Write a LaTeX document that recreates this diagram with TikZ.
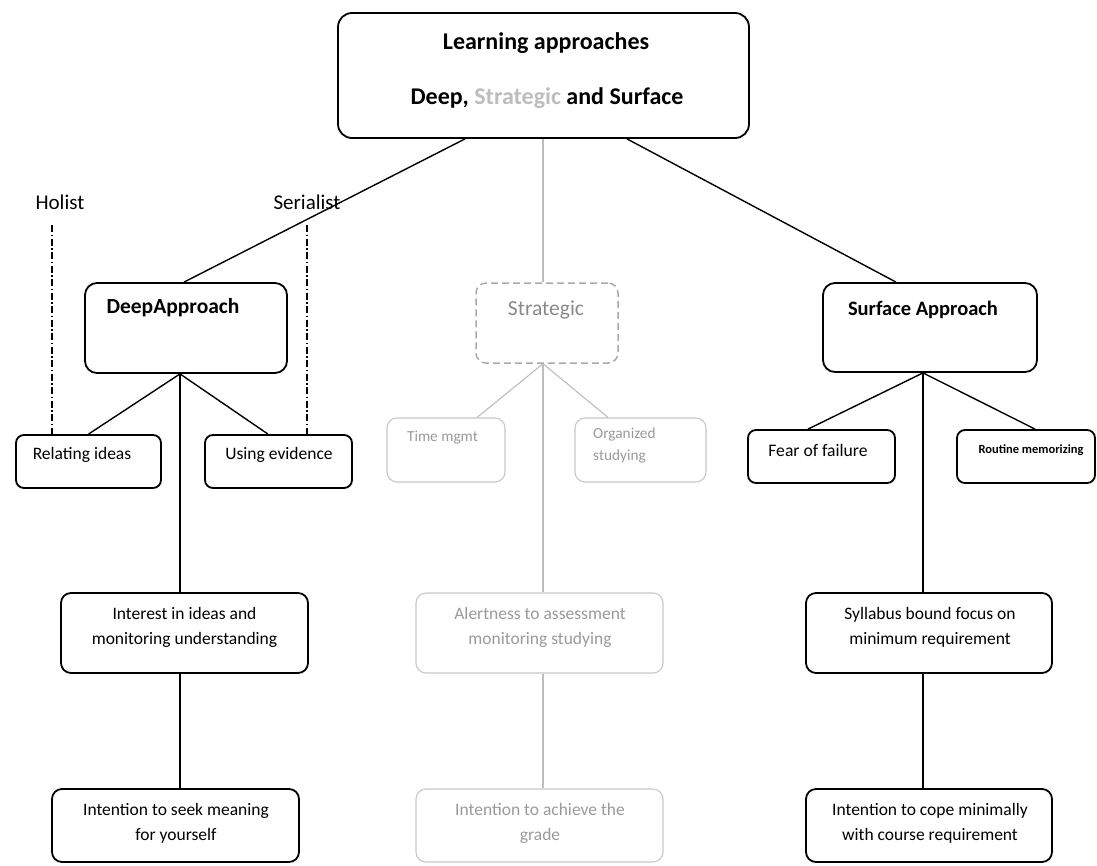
\documentclass[tikz,border=0pt]{standalone}
\usepackage{fontspec}
\setmainfont{Carlito}
\definecolor{lgray}{HTML}{BDBDBD}
\definecolor{tgray}{HTML}{9A9A9A}
\definecolor{sgray}{HTML}{8A8A8A}
\definecolor{bgray}{HTML}{C8C8C8}
\begin{document}
\begin{tikzpicture}[x=1pt,y=-1pt,
  box/.style={draw=black, line width=1.8pt, rounded corners=10pt, inner sep=0pt},
  gbox/.style={draw=bgray, line width=1.1pt, rounded corners=10pt, inner sep=0pt},
  dbox/.style={draw=lgray!90!black, line width=1.5pt, rounded corners=10pt, inner sep=0pt, dash pattern=on 7pt off 4pt},
  conn/.style={draw=black, line width=1.4pt},
  gconn/.style={draw=lgray, line width=1.1pt},
  hsline/.style={draw=black, line width=1.4pt, dash pattern=on 7pt off 2.5pt on 1.5pt off 2.5pt},
  txt/.style={inner sep=0pt, align=center, font=\fontsize{17.5}{25}\selectfont},
  gtxt/.style={txt, text=tgray},
  head/.style={inner sep=0pt, align=center, font=\fontsize{24}{28}\selectfont\bfseries}
]
\useasboundingbox[fill=white] (0,0) rectangle (1097,865);

% boxes
\node[box, rounded corners=14pt, minimum width=411pt, minimum height=125pt] (top) at (543.5,75.5) {};
\node[box, rounded corners=12pt, minimum width=202pt, minimum height=90pt] (deep) at (186,328) {};
\node[dbox, minimum width=142pt, minimum height=80pt] (strat) at (547,323) {};
\node[box, rounded corners=12pt, minimum width=214pt, minimum height=89pt] (surf) at (930,327.5) {};

\node[box, rounded corners=8pt, minimum width=145pt, minimum height=53pt] (relating) at (88.5,461.5) {};
\node[box, rounded corners=8pt, minimum width=147pt, minimum height=53pt] (using) at (278.5,461.5) {};
\node[gbox, minimum width=118pt, minimum height=64pt] (time) at (446,450) {};
\node[gbox, minimum width=131pt, minimum height=64pt] (org) at (640.5,450) {};
\node[box, rounded corners=8pt, minimum width=147pt, minimum height=53pt] (fear) at (821.5,456.5) {};
\node[box, rounded corners=8pt, minimum width=138pt, minimum height=53pt] (routine) at (1026,456.5) {};

\node[box, minimum width=247pt, minimum height=80pt] (interest) at (184.5,633) {};
\node[gbox, minimum width=247pt, minimum height=80pt] (alert) at (539.5,633) {};
\node[box, minimum width=246pt, minimum height=80pt] (syll) at (929,633) {};

\node[box, minimum width=247pt, minimum height=73pt] (seek) at (175.5,825.5) {};
\node[gbox, minimum width=247pt, minimum height=73pt] (achieve) at (539.5,825.5) {};
\node[box, minimum width=246pt, minimum height=73pt] (cope) at (929,825.5) {};

% texts
\node[head] (t1) at (546,43) {Learning approaches};
\node[head] (t2) at (547,98) {Deep, {\color{lgray}Strategic} and Surface};
\node[txt, font=\fontsize{21.5}{25}\selectfont\bfseries] (tdeep) at (173,308) {DeepApproach};
\node[txt, font=\fontsize{21.5}{25}\selectfont, text=sgray] (tstrat) at (546,310) {Strategic};
\node[txt, font=\fontsize{20.5}{25}\selectfont\bfseries] (tsurf) at (923,310) {Surface Approach};

\node[txt, font=\fontsize{21}{25}\selectfont] (holist) at (60,202) {Holist};
\node[txt, font=\fontsize{21}{25}\selectfont] (serialist) at (307,202) {Serialist};

\node[txt] (trel) at (82,455) {Relating ideas};
\node[txt] (tuse) at (279,455) {Using evidence};
\node[gtxt, font=\fontsize{15.3}{22}\selectfont] (ttime) at (442.5,438) {Time mgmt};
\node[gtxt, font=\fontsize{15.3}{22}\selectfont, align=left, anchor=north west] (torg) at (593,428) {Organized\\studying};
\node[txt, font=\fontsize{17.6}{25}\selectfont] (tfear) at (818,450) {Fear of failure};
\node[txt, font=\fontsize{12.5}{15}\selectfont\bfseries] (trout) at (1031,450) {Routine memorizing};

\node[txt] (tint) at (184.5,627.5) {Interest in ideas and\\monitoring understanding};
\node[gtxt] (talert) at (540,627.5) {Alertness to assessment\\monitoring studying};
\node[txt] (tsyll) at (930,627.5) {Syllabus bound focus on\\minimum requirement};

\node[txt] (tseek) at (176,823.5) {Intention to seek meaning\\for yourself};
\node[gtxt] (tach) at (540,823.5) {Intention to achieve the\\grade};
\node[txt] (tcope) at (930,823.5) {Intention to cope minimally\\with course requirement};

% connectors
\draw[conn] ([xshift=-78.5pt]top.south) -- ([xshift=-2pt]deep.north);
\draw[gconn] ([xshift=-0.5pt]top.south) -- ([xshift=-4pt]strat.north);
\draw[conn] ([xshift=83.5pt]top.south) -- ([xshift=-34pt]surf.north);

\draw[conn] ([xshift=-6pt]deep.south) -- (relating.north);
\draw[conn] ([xshift=-6pt]deep.south) -- ([xshift=-10.5pt]using.north);
\draw[conn] ([xshift=-6pt]deep.south) -- ([xshift=-4.5pt]interest.north);
\draw[conn] ([xshift=-4.5pt]interest.south) -- ([xshift=4.5pt]seek.north);

\draw[gconn] ([xshift=-4pt]strat.south) -- ([xshift=31pt]time.north);
\draw[gconn] ([xshift=-4pt]strat.south) -- ([xshift=-32.5pt]org.north);
\draw[gconn] ([xshift=-4pt]strat.south) -- ([xshift=3.5pt]alert.north);
\draw[gconn] ([xshift=3.5pt]alert.south) -- ([xshift=3.5pt]achieve.north);

\draw[conn] ([xshift=-7pt]surf.south) -- ([xshift=-13.5pt]fear.north);
\draw[conn] ([xshift=-7pt]surf.south) -- ([xshift=9pt]routine.north);
\draw[conn] ([xshift=-7pt]surf.south) -- ([xshift=-6pt]syll.north);
\draw[conn] ([xshift=-6pt]syll.south) -- ([xshift=-6pt]cope.north);

\coordinate (hl) at (52,225);
\coordinate (sl) at (307,225);
\draw[hsline] (hl) -- ([xshift=-36.5pt]relating.north);
\draw[hsline] (sl) -- ([xshift=28.5pt]using.north);
\end{tikzpicture}
\end{document}
